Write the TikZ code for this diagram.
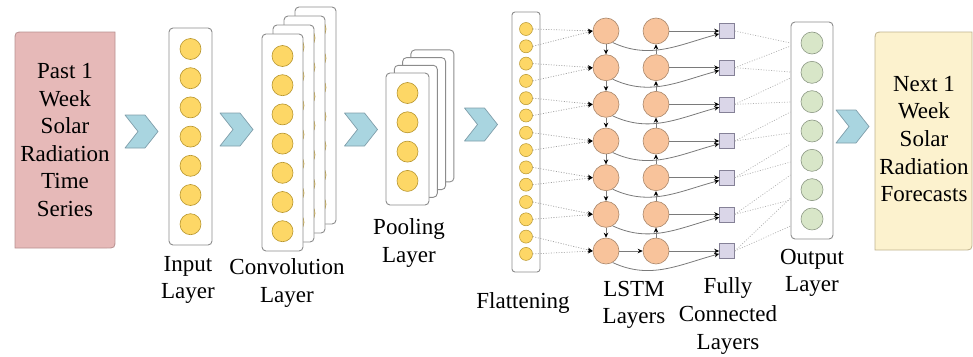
\documentclass[tikz,border=0pt]{standalone}
\usepackage{fontspec}
\setmainfont{Liberation Serif}
\usetikzlibrary{arrows.meta,calc}
\definecolor{pinkfill}{HTML}{E6B9B8}
\definecolor{pinkdraw}{HTML}{B89090}
\definecolor{nextfill}{HTML}{FCF2CE}
\definecolor{nextdraw}{HTML}{BFB38E}
\definecolor{chevfill}{HTML}{A9D5E0}
\definecolor{chevdraw}{HTML}{7F9EAA}
\definecolor{yfill}{HTML}{FDD766}
\definecolor{ydraw}{HTML}{B8962E}
\definecolor{pfill}{HTML}{F8C39B}
\definecolor{pdraw}{HTML}{A8866A}
\definecolor{lfill}{HTML}{DAD6E8}
\definecolor{ldraw}{HTML}{858197}
\definecolor{gfill}{HTML}{D8E6C8}
\definecolor{gdraw}{HTML}{8C9884}
\definecolor{boxgray}{HTML}{8C8C8C}
\definecolor{linegray}{HTML}{7A7A7A}
\tikzset{
  lbl/.style={font=\fontsize{23}{27.6}\selectfont, align=center, inner sep=0pt},
  layerbox/.style={draw=boxgray, fill=white, rounded corners=4pt, line width=0.9pt, inner sep=0pt},
  ycirc/.style={circle, draw=ydraw, fill=yfill, minimum size=21pt, inner sep=0pt, line width=0.6pt},
  fcirc/.style={circle, draw=ydraw, fill=yfill, minimum size=13pt, inner sep=0pt, line width=0.5pt},
  pcirc/.style={circle, draw=pdraw, fill=pfill, minimum size=26pt, inner sep=0pt, line width=0.6pt},
  gcirc/.style={circle, draw=gdraw, fill=gfill, minimum size=22pt, inner sep=0pt, line width=0.6pt},
  fcsq/.style={rectangle, draw=ldraw, fill=lfill, minimum size=15pt, inner sep=0pt, line width=0.6pt},
  arr/.style={draw=linegray, line width=0.8pt, -{Stealth[length=5pt,width=4.5pt,color=black]}},
  dotarr/.style={draw=gray!75, line width=0.7pt, dash pattern=on 1pt off 1.6pt, -{Stealth[length=5pt,width=4.5pt,color=black]}},
  dotline/.style={draw=gray!60, line width=0.7pt, dash pattern=on 1pt off 1.6pt},
  chev/.pic={\draw[fill=chevfill, draw=chevdraw, line width=0.7pt, line join=round]
     (-16.5,-16.5) -- (3.5,-16.5) -- (16.5,0) -- (3.5,16.5) -- (-16.5,16.5) -- (-3.5,0) -- cycle;}
}
\begin{document}
\begin{tikzpicture}[x=1pt,y=-1pt]
\useasboundingbox (0,0) rectangle (973,356);

% Past box
\draw[fill=pinkfill, draw=pinkdraw, line width=0.8pt]
  (15,248) -- (15,41) .. controls (15,32) .. (24,32) -- (115,32) -- (115,239) .. controls (115,248) .. (106,248) -- cycle;
\node[lbl] (past) at (65,140) {Past 1\\Week\\Solar\\Radiation\\Time\\Series};

% Next box
\draw[fill=nextfill, draw=nextdraw, line width=0.8pt]
  (875,250) -- (875,41) .. controls (875,32) .. (884,32) -- (972,32) -- (972,241) .. controls (972,250) .. (963,250) -- cycle;
\node[lbl] (next) at (924,139) {Next 1\\Week\\Solar\\Radiation\\Forecasts};

% chevrons
\pic at (141.5,131.5) {chev};
\pic at (236.5,129.5) {chev};
\pic at (361,129.5) {chev};
\pic at (481,124.5) {chev};
\pic at (852.5,126.5) {chev};

% Input layer
\node[layerbox, minimum width=43pt, minimum height=217pt] (inbox) at (190.5,136.5) {};
\foreach \m in {1,...,7} \node[ycirc] (in\m) at (190.5,{49+29.2*(\m-1)}) {};

% Convolution layer (back sheets then front)
\foreach \k in {3,2,1} {
  \node[layerbox, minimum width=41pt, minimum height=217pt] (cvb\k) at ({282.5+11*\k},{142.5-9*\k}) {};
  \foreach \m in {1,...,7} \node[ycirc] (cvb\k-\m) at ({282.5+11*\k},{56+29.2*(\m-1)-9*\k}) {};
}
\node[layerbox, minimum width=41pt, minimum height=217pt] (cvbox) at (282.5,142.5) {};
\foreach \m in {1,...,7} \node[ycirc] (cv\m) at (282.5,{56+29.2*(\m-1)}) {};

% Pooling layer
\foreach \k in {3,2,1} {
  \node[layerbox, minimum width=43pt, minimum height=132pt] (plb\k) at ({407.5+8.3*\k},{139-7.7*\k}) {};
  \foreach \m in {1,...,4} \node[ycirc] (plb\k-\m) at ({407.5+8.3*\k},{93+29.3*(\m-1)-7.7*\k}) {};
}
\node[layerbox, minimum width=43pt, minimum height=132pt] (plbox) at (407.5,139) {};
\foreach \m in {1,...,4} \node[ycirc] (pl\m) at (407.5,{93+29.3*(\m-1)}) {};

% Flattening
\node[layerbox, rounded corners=3pt, minimum width=28pt, minimum height=260pt] (flbox) at (526,142) {};
\foreach \j in {1,...,14} \node[fcirc] (F\j) at (526,{29+17.3*(\j-1)}) {};

% LSTM and fully connected
\foreach \i in {1,...,7} {
  \node[pcirc] (L\i) at (606,{31+36.67*(\i-1)}) {};
  \node[pcirc] (R\i) at (656,{31+36.67*(\i-1)}) {};
  \node[fcsq] (S\i) at (727,{31+36.67*(\i-1)}) {};
}

% Output layer
\node[layerbox, minimum width=42pt, minimum height=217pt] (obox) at (812,130.5) {};
\foreach \i in {1,...,7} \node[gcirc] (O\i) at (812,{43+29.33*(\i-1)}) {};

% flatten -> LSTM
\foreach \i in {1,...,7} {
  \pgfmathtruncatemacro\fa{2*\i-1}
  \pgfmathtruncatemacro\fb{2*\i}
  \draw[dotarr] (F\fa.east) -- (L\i.west);
  \draw[dotarr] (F\fb.east) -- (L\i.west);
}

% LSTM internal arrows
\foreach \i [evaluate=\i as \n using int(\i+1)] in {1,...,6} {
  \draw[arr] (L\i.south) -- (L\n.north);
  \draw[arr] (R\n.north) -- (R\i.south);
}
\draw[arr] (L7.east) -- (R7.west);
\foreach \i in {1,...,7} {
  \draw[arr] (R\i.east) -- (S\i.west);
  \draw[arr] (L\i.-60) to[out=-25, in=195] (S\i.200);
}

% FC -> output
\foreach \i/\y in {1/43,2/46,2/72,3/78,3/102,4/112,4/133,5/144,5/162,6/175,6/200,7/198,7/226} {
  \coordinate (oe\i-\y) at ($(obox.west)+(0,{\y-130.5})$);
  \draw[dotline] (S\i.east) -- (oe\i-\y);
}

% labels
\node[lbl] (linput) at (188,280) {Input\\Layer};
\node[lbl] (lconv) at (287,283) {Convolution\\Layer};
\node[lbl] (lpool) at (409,243) {Pooling\\Layer};
\node[lbl] (lflat) at (523,303) {Flattening};
\node[lbl] (llstm) at (634,305) {LSTM\\Layers};
\node[lbl] (lfc) at (728,316) {Fully\\Connected\\Layers};
\node[lbl] (lout) at (812,273) {Output\\Layer};
\end{tikzpicture}
\end{document}
